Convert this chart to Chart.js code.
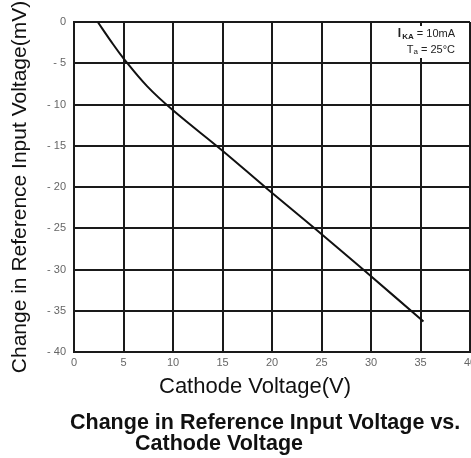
<!DOCTYPE html>
<html>
<head>
<meta charset="utf-8">
<script src="https://cdn.jsdelivr.net/npm/chart.js@4/dist/chart.umd.min.js"></script>
<style>
  html, body { margin: 0; padding: 0; background: #fff; overflow: hidden; }
  #wrap { width: 471px; height: 458px; position: relative; }
  canvas { display: block; }
</style>
</head>
<body>
<div id="wrap"><canvas id="chart"></canvas></div>
<script>
// カソード電圧 (V)
const cathodeV = [2.4, 3.6, 5.0, 7.4, 10.0, 15.0, 19.5, 24.3, 29.3, 35.3];
// 基準入力電圧の変化 (mV)
const deltaVref = [0, -2.1, -4.4, -7.8, -10.7, -15.6, -20.2, -25.0, -30.1, -36.3];

const xTicks = [0, 5, 10, 15, 20, 25, 30, 35, 40];
const yTicks = [0, -5, -10, -15, -20, -25, -30, -35, -40];

const yTitle = 'Change in Reference Input Voltage(mV)';
const xTitle = 'Cathode Voltage(V)';
const captionLines = ['Change in Reference Input Voltage vs.', 'Cathode Voltage'];

const FONT = '"Liberation Sans", Arial, sans-serif';

// 注釈とキャプションを描く
const textPlugin = {
    id: 'textPlugin',
    afterDraw(chart) {
        const ctx = chart.ctx;
        const area = chart.chartArea;
        ctx.save();

        // 右上の条件表示
        const rx = area.right - 15;
        ctx.fillStyle = '#fff';
        ctx.fillRect(rx - 72, area.top + 4, 74, 32);
        ctx.fillStyle = '#222';
        ctx.textBaseline = 'alphabetic';
        ctx.textAlign = 'right';
        ctx.font = '11px ' + FONT;
        ctx.fillText('= 10mA', rx, area.top + 15);
        let w = ctx.measureText('= 10mA ').width;
        ctx.font = 'bold 8px ' + FONT;
        ctx.fillText('KA', rx - w, area.top + 17);
        let w2 = ctx.measureText('KA').width;
        ctx.font = 'bold 12px ' + FONT;
        ctx.fillText('I', rx - w - w2 - 1, area.top + 15);

        ctx.font = '11px ' + FONT;
        ctx.fillText('= 25°C', rx, area.top + 31);
        w = ctx.measureText('= 25°C ').width;
        ctx.font = '8px ' + FONT;
        ctx.fillText('a', rx - w, area.top + 32);
        w2 = ctx.measureText('a').width;
        ctx.font = '11px ' + FONT;
        ctx.fillText('T', rx - w - w2, area.top + 31);

        // x軸タイトル
        ctx.fillStyle = '#111';
        ctx.textAlign = 'left';
        ctx.textBaseline = 'middle';
        ctx.font = '22px ' + FONT;
        ctx.fillText(xTitle, 159, 387);

        // キャプション
        ctx.font = 'bold 21.5px ' + FONT;
        ctx.fillText(captionLines[0], 70, 423);
        ctx.fillText(captionLines[1], 135, 444);
        ctx.restore();
    }
};

const data = {
    datasets: [{
        data: cathodeV.map((x, i) => ({ x: x, y: deltaVref[i] })),
        showLine: true,
        borderColor: '#111',
        borderWidth: 2,
        pointRadius: 0,
        tension: 0.4,
        fill: false
    }]
};

const options = {
    responsive: true,
    maintainAspectRatio: false,
    animation: false,
    layout: { autoPadding: false, padding: { left: 0, right: 1, top: 22, bottom: 0 } },
    plugins: {
        legend: { display: false },
        tooltip: { enabled: false },
        title: { display: false }
    },
    scales: {
        x: {
            type: 'linear',
            min: 0,
            max: 40,
            afterBuildTicks: (scale) => { scale.ticks = xTicks.map(v => ({ value: v })); },
            afterFit: (scale) => { scale.height = 106; scale.paddingRight = 0; scale.paddingLeft = 0; },
            grid: { color: '#1a1a1a', lineWidth: 2, drawTicks: false },
            border: { color: '#1a1a1a', width: 2 },
            ticks: {
                color: '#666',
                font: { size: 11, family: FONT },
                padding: 4,
                maxRotation: 0
            }
        },
        y: {
            type: 'linear',
            min: -40,
            max: 0,
            afterBuildTicks: (scale) => { scale.ticks = yTicks.map(v => ({ value: v })); },
            afterFit: (scale) => { scale.width = 74; scale.paddingTop = 0; scale.paddingBottom = 0; },
            grid: { color: '#1a1a1a', lineWidth: 2, drawTicks: false },
            border: { color: '#1a1a1a', width: 2 },
            title: {
                display: true,
                text: yTitle,
                color: '#111',
                font: { size: 21, family: FONT },
                padding: { top: 8, bottom: 4 }
            },
            ticks: {
                color: '#666',
                font: { size: 11, family: FONT },
                padding: 8,
                callback: (v) => v === 0 ? '0' : '- ' + Math.abs(v)
            }
        }
    }
};

const ctx = document.getElementById('chart').getContext('2d');
const chart = new Chart(ctx, {
    type: 'scatter',
    data: data,
    options: options,
    plugins: [textPlugin]
});
</script>
</body>
</html>
